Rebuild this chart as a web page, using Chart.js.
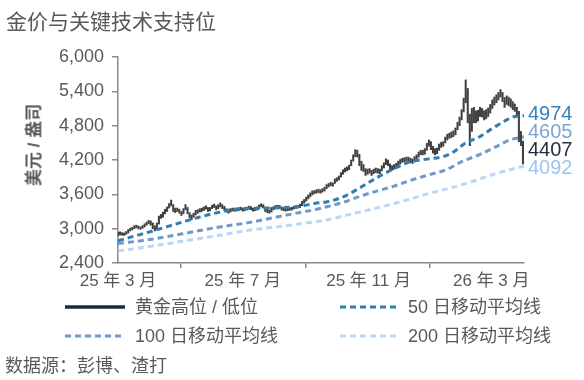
<!DOCTYPE html>
<html>
<head>
<meta charset="utf-8">
<script src="https://cdn.jsdelivr.net/npm/chart.js@4.4.1/dist/chart.umd.min.js"></script>
<style>
  html, body { margin:0; padding:0; background:#fff; }
  body { width:584px; height:380px; position:relative; overflow:hidden;
         font-family:"Liberation Sans","Noto Sans CJK SC",sans-serif; color:#595959; }
  #wrap { position:absolute; left:0; top:0; width:584px; height:380px; }
  .title { position:absolute; left:6px; top:5px; font-size:21px; color:#595959; white-space:nowrap; }
  .ytitle { position:absolute; left:32px; top:145px; transform:translate(-50%,-50%) rotate(-90deg);
            font-size:17px; font-weight:bold; color:#595959; white-space:nowrap; }
  .leg { position:absolute; font-size:18px; color:#595959; white-space:nowrap; line-height:20px; }
  .legsym { position:absolute; }
  .source { position:absolute; left:5px; top:351px; font-size:18px; color:#595959; white-space:nowrap; }
</style>
</head>
<body>
<div id="wrap"><canvas id="c" width="584" height="380"></canvas></div>
<div class="title">金价与关键技术支持位</div>
<div class="ytitle">美元 / 盎司</div>
<div id="legend"></div>
<div class="source">数据源：彭博、渣打</div>
<script>
// ---- Data ----
const xTickDays   = [0, 122, 245, 365];
const xTickLabels = ['25 年 3 月', '25 年 7 月', '25 年 11 月', '26 年 3 月'];
const yTicks = [2400, 3000, 3600, 4200, 4800, 5400, 6000];

// gold high / low, every 2 calendar days starting 2025-03-01 (day 0)
const priceStep = 2;
const goldLow = [
 2870,2890,2885,2880,2900,2925,2960,2980,3000,3015,2995,2990,3005,3030,3060,3085,3060,3000,2960,2980,
 3080,3180,3200,3260,3300,3360,3400,3300,3280,3300,3270,3230,3260,3330,3260,3190,3160,3200,3240,3270,
 3290,3300,3320,3340,3300,3310,3350,3370,3330,3350,3380,3350,3320,3290,3270,3290,3310,3300,3310,3315,
 3325,3305,3315,3325,3340,3330,3305,3315,3325,3350,3380,3360,3300,3280,3270,3290,3330,3350,3365,3355,
 3325,3315,3305,3315,3320,3325,3345,3355,3360,3370,3400,3445,3480,3520,3555,3590,3610,3620,3630,3620,
 3640,3660,3700,3730,3750,3740,3790,3825,3850,3900,3950,3990,4010,4030,4100,4180,4260,4250,4100,4020,
 4000,3930,3950,3970,3930,3960,3980,3970,3960,4010,4060,4120,4100,4030,4020,4040,4060,4100,4130,4160,
 4170,4180,4180,4150,4140,4180,4210,4250,4290,4290,4300,4370,4440,4380,4320,4290,4310,4370,4420,4440,
 4500,4550,4580,4590,4610,4640,4730,4800,4900,5040,5200,4850,4450,4700,4850,4850,4880,4960,4950,4900,
 4920,4960,5020,5100,5160,5200,5250,5300,5220,5120,5170,5150,5120,5080,5050,4980,4520,4450,4130
];
const goldHigh = [
 2935,2945,2930,2925,2950,2985,3010,3025,3055,3060,3045,3030,3055,3085,3115,3145,3135,3100,3050,3100,
 3220,3250,3290,3340,3380,3440,3500,3420,3360,3360,3340,3300,3350,3420,3370,3280,3240,3270,3320,3330,
 3350,3360,3380,3400,3370,3370,3410,3430,3400,3420,3450,3420,3390,3350,3330,3350,3360,3355,3355,3365,
 3375,3360,3365,3375,3395,3385,3360,3365,3380,3415,3435,3420,3380,3340,3325,3370,3385,3405,3410,3405,
 3380,3365,3355,3360,3365,3375,3390,3400,3405,3430,3480,3510,3550,3590,3625,3660,3665,3680,3690,3680,
 3700,3725,3770,3790,3810,3800,3870,3890,3920,3980,4030,4060,4080,4110,4200,4290,4380,4370,4300,4180,
 4120,4050,4040,4050,4020,4040,4060,4050,4040,4100,4150,4220,4200,4130,4100,4120,4140,4180,4210,4230,
 4240,4250,4250,4230,4220,4260,4290,4340,4370,4370,4400,4490,4550,4520,4440,4400,4410,4480,4510,4520,
 4600,4650,4670,4690,4710,4760,4860,4950,5080,5280,5600,5450,5000,5100,5120,5060,5070,5120,5100,5060,
 5080,5110,5170,5250,5300,5340,5380,5430,5380,5290,5320,5300,5270,5220,5180,5120,5050,4700,4530
];

// moving averages: [day, value]
const ma50Days  = [0, 30, 48, 64, 80, 96, 112, 128, 144, 160, 176, 192, 206, 222, 238, 254, 270, 286, 302, 318, 328, 340, 352, 366, 380, 388, 397];
const ma50Vals  = [2790, 2940, 3035, 3120, 3205, 3275, 3335, 3355, 3358, 3368, 3385, 3440, 3475, 3570, 3730, 3900, 4050, 4170, 4215, 4260, 4340, 4500, 4590, 4750, 4900, 4960, 4974];
const ma100Days = [0, 31, 63, 96, 129, 161, 194, 222, 238, 254, 271, 287, 304, 321, 336, 353, 370, 383, 397];
const ma100Vals = [2740, 2810, 2910, 3020, 3110, 3225, 3340, 3470, 3575, 3660, 3750, 3850, 3940, 4030, 4170, 4290, 4435, 4550, 4605];
const ma200Days = [0, 31, 63, 96, 129, 161, 194, 207, 226, 238, 271, 304, 336, 370, 397];
const ma200Vals = [2610, 2690, 2780, 2875, 2975, 3045, 3125, 3165, 3245, 3295, 3445, 3615, 3765, 3965, 4092];

const endLabels = [
  { text: '4974', value: 4974, color: '#3683B8' },
  { text: '4605', value: 4605, color: '#7FA6D2' },
  { text: '4407', value: 4407, color: '#1E2D40' },
  { text: '4092', value: 4092, color: '#9DC4F0' }
];

const colors = { gold: '#404040', goldLegend: '#1C2A40', ma50: '#2F7DB2', ma100: '#7099C9', ma200: '#BCD7F5' };
const FONT = '"Liberation Sans","Noto Sans CJK SC",sans-serif';

// ---- Build datasets ----
const goldData = goldLow.map((lo, i) => ({ x: i * priceStep, y: [lo, goldHigh[i]] }));
const toXY = (d, v) => d.map((x, i) => ({ x: x, y: v[i] }));

function maDataset(label, days, vals, color) {
  return {
    type: 'line', label: label, data: toXY(days, vals), order: 0,
    borderColor: color, borderWidth: 3, borderDash: [6, 4], borderCapStyle: 'butt',
    pointRadius: 0, cubicInterpolationMode: 'monotone', fill: false
  };
}

const endLabelPlugin = {
  id: 'endLabels',
  afterDraw(chart) {
    const ctx = chart.ctx, ys = chart.scales.y, area = chart.chartArea;
    const pos = endLabels.map(l => ys.getPixelForValue(l.value));
    const gap = 18;
    for (let it = 0; it < 50; it++) {
      for (let i = 1; i < pos.length; i++) {
        const d = pos[i] - pos[i - 1];
        if (d < gap) { const m = (gap - d) / 2; pos[i - 1] -= m; pos[i] += m; }
      }
    }
    ctx.save();
    ctx.font = '20px ' + FONT;
    ctx.textAlign = 'left';
    ctx.textBaseline = 'middle';
    endLabels.forEach((l, i) => { ctx.fillStyle = l.color; ctx.fillText(l.text, area.right + 4, pos[i]); });
    ctx.restore();
  }
};

new Chart(document.getElementById('c'), {
  type: 'bar',
  data: {
    datasets: [
      { type: 'bar', label: '黄金高位 / 低位', data: goldData, backgroundColor: colors.gold,
        barThickness: 1.4, borderWidth: 0, grouped: false, order: 1 },
      maDataset('50 日移动平均线', ma50Days, ma50Vals, colors.ma50),
      maDataset('100 日移动平均线', ma100Days, ma100Vals, colors.ma100),
      maDataset('200 日移动平均线', ma200Days, ma200Vals, colors.ma200)
    ]
  },
  options: {
    responsive: false, animation: false, devicePixelRatio: 1,
    layout: { padding: { left: 0, right: 60, top: 57, bottom: 0 } },
    plugins: { legend: { display: false }, tooltip: { enabled: false } },
    scales: {
      x: {
        type: 'linear', min: 0, max: 397, offset: false,
        afterFit: s => { s.height = 117; },
        afterBuildTicks: s => { s.ticks = xTickDays.map(v => ({ value: v })); },
        grid: { drawOnChartArea: false, drawTicks: true, tickLength: 5, color: '#8a8a8a', lineWidth: 1.5 },
        border: { display: true, color: '#8a8a8a', width: 1.5 },
        ticks: { autoSkip: false, maxRotation: 0, padding: 3, color: '#595959',
                 font: { family: FONT, size: 17 },
                 callback: v => { const i = xTickDays.indexOf(v); return i >= 0 ? xTickLabels[i] : ''; } }
      },
      y: {
        min: 2400, max: 6000,
        afterFit: s => { s.width = 118; },
        afterBuildTicks: s => { s.ticks = yTicks.map(v => ({ value: v })); },
        grid: { drawOnChartArea: false, drawTicks: true, tickLength: 6, color: '#8a8a8a', lineWidth: 1.5 },
        border: { display: true, color: '#8a8a8a', width: 1.5 },
        ticks: { padding: 8, color: '#595959', font: { family: FONT, size: 18 },
                 callback: v => v.toLocaleString('en-US') }
      }
    }
  },
  plugins: [endLabelPlugin]
});

// ---- Legend (HTML) ----
const legendItems = [
  { text: '黄金高位 / 低位', color: colors.goldLegend, dash: '', x: 65, y: 307, w: 60 },
  { text: '50 日移动平均线', color: colors.ma50, dash: '6 4', x: 340, y: 307, w: 58 },
  { text: '100 日移动平均线', color: colors.ma100, dash: '6 4', x: 65, y: 336, w: 60 },
  { text: '200 日移动平均线', color: colors.ma200, dash: '6 4', x: 340, y: 336, w: 58 }
];
const legendEl = document.getElementById('legend');
legendItems.forEach(it => {
  const sw = it.dash ? 3 : 3.5;
  const svg = document.createElementNS('http://www.w3.org/2000/svg', 'svg');
  svg.setAttribute('class', 'legsym');
  svg.setAttribute('width', it.w); svg.setAttribute('height', 8);
  svg.style.left = it.x + 'px'; svg.style.top = (it.y - 4) + 'px';
  const ln = document.createElementNS('http://www.w3.org/2000/svg', 'line');
  ln.setAttribute('x1', 0); ln.setAttribute('x2', it.w); ln.setAttribute('y1', 4); ln.setAttribute('y2', 4);
  ln.setAttribute('stroke', it.color); ln.setAttribute('stroke-width', sw);
  if (it.dash) ln.setAttribute('stroke-dasharray', it.dash);
  svg.appendChild(ln);
  legendEl.appendChild(svg);
  const t = document.createElement('div');
  t.className = 'leg'; t.textContent = it.text;
  t.style.left = (it.x + it.w + 10) + 'px'; t.style.top = (it.y - 10) + 'px';
  legendEl.appendChild(t);
});
</script>
</body>
</html>
